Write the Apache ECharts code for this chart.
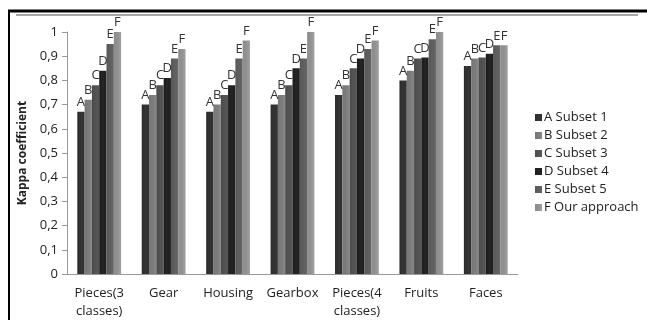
<!DOCTYPE html>
<html>
<head>
    <meta charset="utf-8">
    <title></title>
    <script src="https://cdn.jsdelivr.net/npm/echarts@6/dist/echarts.min.js"></script>
    <style>
        html, body { margin: 0; padding: 0; background: #fff; }
        #chart { width: 647px; height: 320px; }
    </style>
</head>
<body>
    <div id="chart"></div>
    <script>
    var categories = ['Pieces(3\nclasses)', 'Gear', 'Housing', 'Gearbox', 'Pieces(4\nclasses)', 'Fruits', 'Faces'];
    var letters = ['A', 'B', 'C', 'D', 'E', 'F'];
    var seriesNames = ['A Subset 1', 'B Subset 2', 'C Subset 3', 'D Subset 4', 'E Subset 5', 'F Our approach'];
    var subset1 = [0.67, 0.70, 0.67, 0.70, 0.74, 0.80, 0.86];
    var subset2 = [0.72, 0.74, 0.70, 0.74, 0.78, 0.84, 0.89];
    var subset3 = [0.78, 0.78, 0.74, 0.78, 0.85, 0.89, 0.895];
    var subset4 = [0.84, 0.81, 0.78, 0.85, 0.89, 0.895, 0.91];
    var subset5 = [0.95, 0.89, 0.89, 0.89, 0.93, 0.97, 0.945];
    var ourApproach = [1.0, 0.93, 0.965, 1.0, 0.965, 1.0, 0.945];
    var yTicks = ['0', '0,1', '0,2', '0,3', '0,4', '0,5', '0,6', '0,7', '0,8', '0,9', '1'];

    var allData = [subset1, subset2, subset3, subset4, subset5, ourApproach];
    var colors = ['#2a2a2a', '#767676', '#4a4a4a', '#1a1a1a', '#575757', '#8c8c8c'];

    // slight horizontal shading, like the old office 3d-ish bars
    function shade(c) {
        return new echarts.graphic.LinearGradient(0, 0, 1, 0, [
            { offset: 0, color: c },
            { offset: 0.5, color: echarts.color.lift(c, 0.05) },
            { offset: 1, color: echarts.color.lift(c, -0.15) }
        ]);
    }

    var series = allData.map(function (d, i) {
        return {
            name: seriesNames[i],
            type: 'bar',
            data: d,
            barGap: '0%',
            barCategoryGap: '32%',
            itemStyle: { color: shade(colors[i]) },
            label: {
                show: true,
                position: 'top',
                distance: 3,
                formatter: letters[i],
                color: '#333',
                fontSize: 13,
                fontFamily: 'Open Sans'
            }
        };
    });

    var myChart = echarts.init(document.getElementById('chart'));
    var option = {
        animation: false,
        color: colors,
        grid: { left: 67, right: 129, top: 32, bottom: 46 },
        legend: {
            orient: 'vertical',
            left: 530,
            top: 106,
            itemWidth: 7,
            itemHeight: 7,
            itemGap: 5,
            icon: 'rect',
            textStyle: { fontSize: 13, color: '#222', fontFamily: 'Open Sans', padding: [0, 0, 0, -3] },
            data: seriesNames
        },
        xAxis: {
            type: 'category',
            data: categories,
            axisLine: { lineStyle: { color: '#999' } },
            axisTick: { show: false },
            axisLabel: {
                interval: 0,
                margin: 10,
                color: '#222',
                fontSize: 13,
                lineHeight: 18,
                fontFamily: 'Open Sans'
            }
        },
        yAxis: {
            type: 'value',
            min: 0,
            max: 1,
            interval: 0.1,
            name: 'Kappa coefficient',
            nameLocation: 'middle',
            nameGap: 37,
            nameRotate: 90,
            nameTextStyle: { fontWeight: 'bold', fontSize: 12, color: '#222', fontFamily: 'Open Sans' },
            axisLine: { show: true, lineStyle: { color: '#999' } },
            axisTick: { show: true, inside: false, length: 5, lineStyle: { color: '#999' } },
            splitLine: { show: false },
            axisLabel: {
                color: '#222',
                fontSize: 13,
                margin: 9,
                fontFamily: 'Open Sans',
                formatter: function (v) { return yTicks[Math.round(v * 10)]; }
            }
        },
        graphic: [
            { type: 'line', shape: { x1: 9, y1: 11, x2: 9, y2: 320 }, style: { stroke: '#000', lineWidth: 2 } },
            { type: 'line', shape: { x1: 8, y1: 11, x2: 647, y2: 11 }, style: { stroke: '#000', lineWidth: 3 } },
            { type: 'line', shape: { x1: 16, y1: 15, x2: 638, y2: 15 }, style: { stroke: '#888', lineWidth: 1.5 } }
        ],
        series: series
    };
    myChart.setOption(option);
    addEventListener('resize', myChart.resize);
    </script>
</body>
</html>
